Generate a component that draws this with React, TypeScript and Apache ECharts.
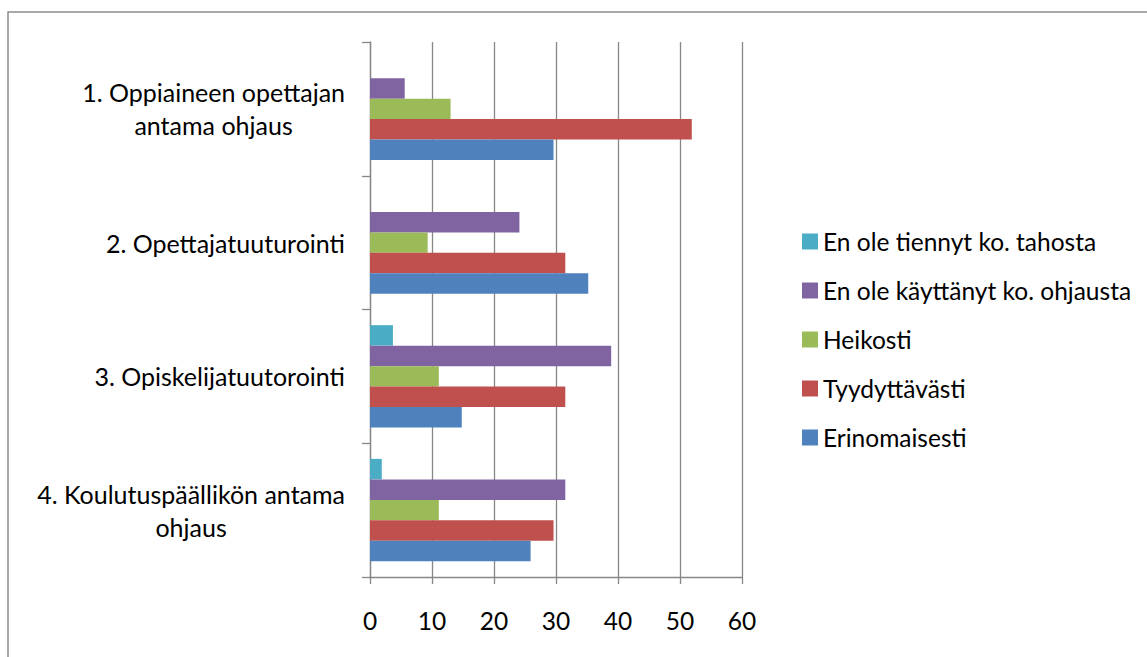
import React, { useEffect, useRef } from "react";
import * as echarts from "echarts";

const categories = [
  "1. Oppiaineen opettajan\nantama ohjaus",
  "2. Opettajatuuturointi",
  "3. Opiskelijatuutorointi",
  "4. Koulutuspäällikön antama\nohjaus",
];

// Top-to-bottom order inside each category group (and in the legend)
const seriesNames = [
  "En ole tiennyt ko. tahosta",
  "En ole käyttänyt ko. ohjausta",
  "Heikosti",
  "Tyydyttävästi",
  "Erinomaisesti",
];

const enOleTiennyt = [0, 0, 3.7, 1.9];
const enOleKayttanyt = [5.6, 24.1, 38.9, 31.5];
const heikosti = [13.0, 9.3, 11.1, 11.1];
const tyydyttavasti = [51.9, 31.5, 31.5, 29.6];
const erinomaisesti = [29.6, 35.2, 14.8, 25.9];

const xTicks = [0, 10, 20, 30, 40, 50, 60];

const colors = ["#4BACC6", "#8064A2", "#9BBB59", "#C0504D", "#4F81BD"];

const FONT = "Lato, 'Open Sans', sans-serif";

export default function App() {
  const ref = useRef<HTMLDivElement>(null);

  useEffect(() => {
    if (!ref.current) return;
    const chart = echarts.init(ref.current, null, { renderer: "svg" });
    const values = [enOleTiennyt, enOleKayttanyt, heikosti, tyydyttavasti, erinomaisesti];
    const revCats = [...categories].reverse();
    const gridColor = "#878787";
    chart.setOption({
      animation: false,
      backgroundColor: "#ffffff",
      textStyle: { fontFamily: FONT },
      graphic: [
        {
          type: "rect",
          shape: { x: 8, y: 12, width: 1400, height: 900 },
          style: { fill: "none", stroke: "#8c8c8c", lineWidth: 1.5 },
          silent: true,
        },
      ],
      grid: { left: 370, right: 405, top: 42, bottom: 80, containLabel: false },
      legend: {
        orient: "vertical",
        left: 797,
        top: 224,
        itemWidth: 16,
        itemHeight: 16,
        itemGap: 24,
        icon: "rect",
        data: seriesNames,
        textStyle: {
          fontFamily: FONT,
          fontSize: 24.5,
          color: "#000",
          lineHeight: 24,
        },
      },
      xAxis: {
        type: "value",
        min: xTicks[0],
        max: xTicks[xTicks.length - 1],
        interval: 10,
        axisLine: { show: true, lineStyle: { color: gridColor, width: 1.3 } },
        axisTick: { show: true, length: 7, lineStyle: { color: gridColor, width: 1.3 } },
        splitLine: { show: true, lineStyle: { color: gridColor, width: 1.3 } },
        axisLabel: { fontFamily: FONT, fontSize: 24.5, color: "#000", margin: 31 },
      },
      yAxis: {
        type: "category",
        data: revCats,
        axisLine: { show: true, lineStyle: { color: gridColor, width: 1.3 } },
        axisTick: { show: true, length: 8, lineStyle: { color: gridColor, width: 1.3 } },
        splitLine: { show: false },
        axisLabel: {
          align: "right",
          margin: 25,
          color: "#000",
          formatter: (v: string) =>
            v
              .split("\n")
              .map((l) => `{a|${l}}`)
              .join("\n"),
          rich: {
            a: { align: "center", fontFamily: FONT, fontSize: 25, lineHeight: 33, color: "#000" },
          },
        },
      },
      series: seriesNames.map((name, i) => ({
        name,
        type: "bar",
        data: [...values[i]].reverse(),
        itemStyle: { color: colors[i] },
        barGap: "0%",
        barCategoryGap: "23.4%",
      })),
    });
    return () => chart.dispose();
  }, []);

  return (
    <div
      ref={ref}
      style={{ position: "absolute", left: 0, top: 0, width: 1147, height: 657 }}
    />
  );
}
